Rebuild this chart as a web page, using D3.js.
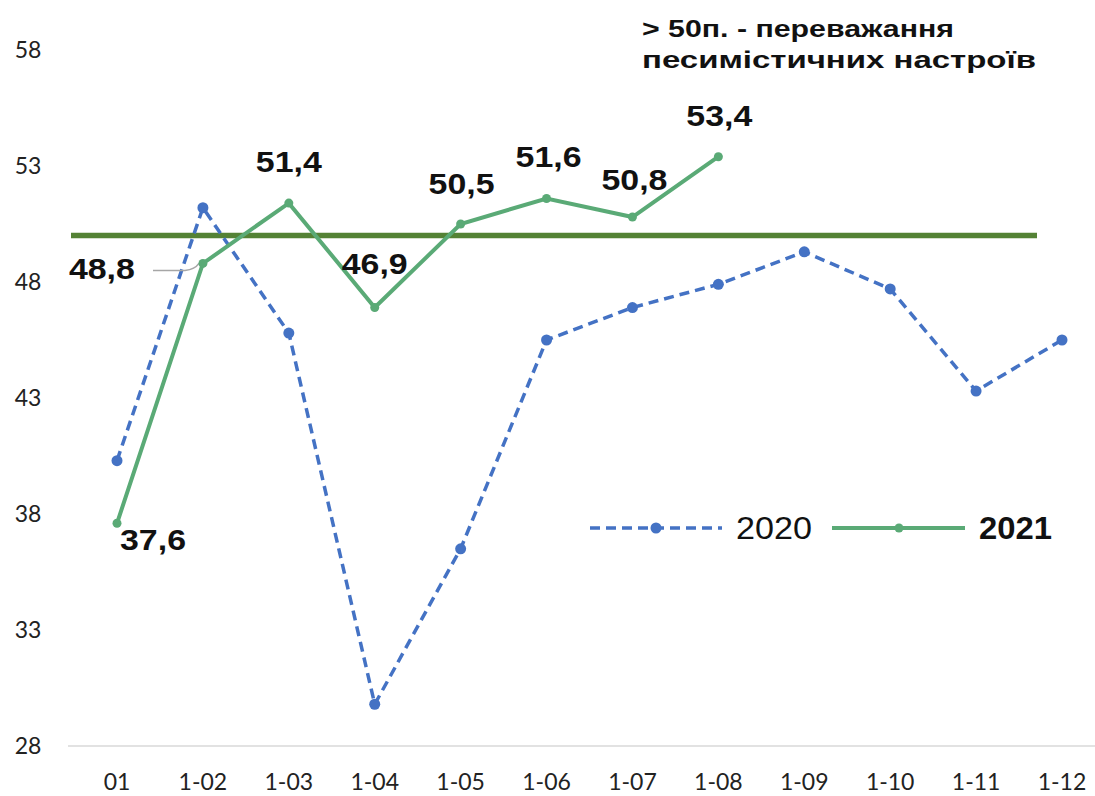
<!DOCTYPE html>
<html>
<head>
<meta charset="utf-8">
<script src="https://cdn.jsdelivr.net/npm/d3@7/dist/d3.min.js"></script>
<style>
  html, body { margin: 0; padding: 0; background: #ffffff; }
  svg { display: block; }
</style>
</head>
<body>
<svg id="chart" width="1095" height="796"></svg>
<script>
// Months (cumulative periods)
const months = ["01", "1-02", "1-03", "1-04", "1-05", "1-06", "1-07", "1-08", "1-09", "1-10", "1-11", "1-12"];
// Index values
const values2020 = [40.3, 51.2, 45.8, 29.8, 36.5, 45.5, 46.9, 47.9, 49.3, 47.7, 43.3, 45.5];
const values2021 = [37.6, 48.8, 51.4, 46.9, 50.5, 51.6, 50.8, 53.4];
const labels2021 = ["37,6", "48,8", "51,4", "46,9", "50,5", "51,6", "50,8", "53,4"];
const yTicks = [28, 33, 38, 43, 48, 53, 58];
const threshold = 50;
const seriesNames = ["2020", "2021"];
const noteLines = ["> 50п. - переважання", "песимістичних настроїв"];

const svg = d3.select("#chart");
const x = d3.scalePoint().domain(months).range([117, 1062]);
const y = d3.scaleLinear().domain([28, 58]).range([746, 50]);

const blue = "#4472c4";
const green = "#5aaa76";
const darkGreen = "#548235";
const axisFont = "Lato, 'Open Sans', sans-serif";
const boldFont = "'Liberation Sans', Arial, sans-serif";

// Baseline
svg.append("line")
  .attr("x1", 68).attr("x2", 1095)
  .attr("y1", y(28)).attr("y2", y(28))
  .attr("stroke", "#d9d9d9").attr("stroke-width", 1.5);

// Y tick labels
svg.append("g").selectAll("text").data(yTicks).join("text")
  .attr("x", 28).attr("y", d => y(d))
  .attr("dy", "0.35em")
  .attr("text-anchor", "middle")
  .attr("font-family", axisFont).attr("font-size", 23).attr("fill", "#222")
  .text(d => d);

// X tick labels
svg.append("g").selectAll("text").data(months).join("text")
  .attr("x", d => x(d)).attr("y", 782)
  .attr("dy", "0.35em")
  .attr("text-anchor", "middle")
  .attr("font-family", axisFont).attr("font-size", 23).attr("fill", "#222")
  .text(d => d);

// Threshold line at 50
svg.append("line")
  .attr("x1", 71).attr("x2", 1037)
  .attr("y1", y(threshold)).attr("y2", y(threshold))
  .attr("stroke", darkGreen).attr("stroke-width", 5.5);

const line = d3.line().x((d, i) => x(months[i])).y(d => y(d));

// 2020 series: dashed
svg.append("path").datum(values2020)
  .attr("d", line)
  .attr("fill", "none").attr("stroke", blue)
  .attr("stroke-width", 3.5).attr("stroke-dasharray", "10,6");
svg.append("g").selectAll("circle").data(values2020).join("circle")
  .attr("cx", (d, i) => x(months[i])).attr("cy", d => y(d))
  .attr("r", 5.5).attr("fill", blue);

// Leader line for the February 2021 label
svg.append("path")
  .attr("d", `M153,${y(48.8) + 7} L185,${y(48.8) + 7} Q195,${y(48.8) + 6} ${x("1-02") - 4},${y(48.8)}`)
  .attr("fill", "none").attr("stroke", "#a6a6a6").attr("stroke-width", 1.5);

// 2021 series: solid
svg.append("path").datum(values2021)
  .attr("d", line)
  .attr("fill", "none").attr("stroke", green)
  .attr("stroke-width", 4);
svg.append("g").selectAll("circle").data(values2021).join("circle")
  .attr("cx", (d, i) => x(months[i])).attr("cy", d => y(d))
  .attr("r", 4.5).attr("fill", green);

// Data labels for 2021 (offsets relative to each point)
const labelOffsets = [[36, 16], [-101, 5], [0, -42], [0, -44], [1, -41], [2, -42], [2, -38], [1, -41]];
svg.append("g").selectAll("text").data(values2021).join("text")
  .attr("x", (d, i) => x(months[i]) + labelOffsets[i][0] - 33)
  .attr("y", (d, i) => y(d) + labelOffsets[i][1])
  .attr("dy", "0.35em")
  .attr("textLength", 66).attr("lengthAdjust", "spacingAndGlyphs")
  .attr("font-family", boldFont).attr("font-weight", "bold")
  .attr("font-size", 30).attr("fill", "#111")
  .text((d, i) => labels2021[i]);

// Note about the threshold
const noteWidths = [312, 394];
svg.append("g").selectAll("text").data(noteLines).join("text")
  .attr("x", 642).attr("y", (d, i) => 29 + i * 31)
  .attr("dy", "0.35em")
  .attr("textLength", (d, i) => noteWidths[i]).attr("lengthAdjust", "spacingAndGlyphs")
  .attr("font-family", boldFont).attr("font-weight", "bold")
  .attr("font-size", 23).attr("fill", "#111")
  .text(d => d);

// Legend
const legend = svg.append("g");
const ly = 528;
legend.append("line").attr("x1", 590).attr("x2", 722).attr("y1", ly).attr("y2", ly)
  .attr("stroke", blue).attr("stroke-width", 3.5).attr("stroke-dasharray", "10,6");
legend.append("circle").attr("cx", 656).attr("cy", ly).attr("r", 5.5).attr("fill", blue);
legend.append("text").attr("x", 736).attr("y", ly).attr("dy", "0.35em")
  .attr("textLength", 76).attr("lengthAdjust", "spacingAndGlyphs")
  .attr("font-family", boldFont).attr("font-size", 31).attr("fill", "#111")
  .text(seriesNames[0]);
legend.append("line").attr("x1", 832).attr("x2", 965).attr("y1", ly).attr("y2", ly)
  .attr("stroke", green).attr("stroke-width", 4);
legend.append("circle").attr("cx", 899).attr("cy", ly).attr("r", 4.5).attr("fill", green);
legend.append("text").attr("x", 979).attr("y", ly).attr("dy", "0.35em")
  .attr("textLength", 73).attr("lengthAdjust", "spacingAndGlyphs")
  .attr("font-family", boldFont).attr("font-weight", "bold").attr("font-size", 31).attr("fill", "#111")
  .text(seriesNames[1]);
</script>
</body>
</html>
